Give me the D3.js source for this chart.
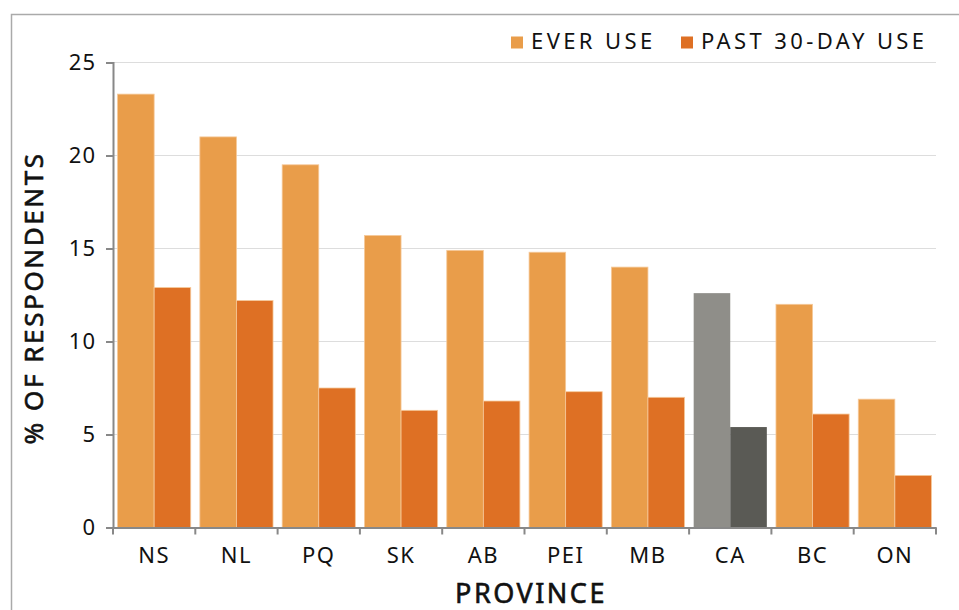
<!DOCTYPE html>
<html>
<head>
<meta charset="utf-8">
<script src="https://cdn.jsdelivr.net/npm/d3@7"></script>
<style>
  html, body { margin: 0; padding: 0; background: #fff; }
  svg text { font-family: "Noto Sans", sans-serif; fill: #111; }
</style>
</head>
<body>
<svg id="chart" width="959" height="610"></svg>
<script>
const provinces = ["NS", "NL", "PQ", "SK", "AB", "PEI", "MB", "CA", "BC", "ON"];
const everUse = [23.3, 21.0, 19.5, 15.7, 14.9, 14.8, 14.0, 12.6, 12.0, 6.9];
const past30Use = [12.9, 12.2, 7.5, 6.3, 6.8, 7.3, 7.0, 5.4, 6.1, 2.8];
const seriesNames = ["EVER USE", "PAST 30-DAY USE"];
const yTicks = [0, 5, 10, 15, 20, 25];

const colors = {
  ever: "#E99D4A", past: "#DE7024",
  everHi: "#8F8E89", pastHi: "#5A5A55"
};
const highlight = "CA";

const svg = d3.select("#chart");
const margin = { left: 113, right: 23, top: 62.5, bottom: 82.5 };
const W = 959, H = 610;

// outer frame
svg.append("rect").attr("x", 11.5).attr("y", 14.5).attr("width", W).attr("height", H)
  .attr("fill", "none").attr("stroke", "#AAAAAA").attr("stroke-width", 1.5);

const x = d3.scaleBand().domain(provinces).range([margin.left, W - margin.right]).paddingInner(0).paddingOuter(0);
const x1 = d3.scaleBand().domain(seriesNames).range([0, x.bandwidth()]).paddingInner(0).paddingOuter(0.125);
const y = d3.scaleLinear().domain([0, 25]).range([H - margin.bottom, margin.top]);

// gridlines
svg.append("g").selectAll("line").data(yTicks.filter(d => d > 0)).join("line")
  .attr("x1", margin.left).attr("x2", W - margin.right)
  .attr("y1", d => y(d)).attr("y2", d => y(d))
  .attr("stroke", "#DDDDDD").attr("stroke-width", 1);

// bars
const groups = svg.append("g").selectAll("g").data(provinces).join("g")
  .attr("transform", d => `translate(${x(d)},0)`);
groups.selectAll("rect").data((d, i) => [
  { s: seriesNames[0], v: everUse[i], c: d === highlight ? colors.everHi : colors.ever, hi: d === highlight },
  { s: seriesNames[1], v: past30Use[i], c: d === highlight ? colors.pastHi : colors.past, hi: d === highlight }
]).join("rect")
  .attr("x", d => x1(d.s)).attr("width", x1.bandwidth())
  .attr("y", d => y(d.v)).attr("height", d => y(0) - y(d.v))
  .attr("fill", d => d.c)
  .attr("stroke", d => d.hi ? "none" : "#F6C99A")
  .attr("stroke-width", 0.8);

// y axis
const yAxis = svg.append("g").attr("transform", `translate(${margin.left},0)`)
  .call(d3.axisLeft(y).tickValues(yTicks).tickSize(7).tickPadding(10));
yAxis.select(".domain").attr("stroke", "#888").attr("stroke-width", 2);
yAxis.selectAll(".tick line").attr("stroke", "#888").attr("stroke-width", 2);
yAxis.selectAll("text").style("font-size", "22px").style("letter-spacing", "1px").attr("fill", "#111");

// x axis
const xAxis = svg.append("g").attr("transform", `translate(0,${y(0)})`)
  .call(d3.axisBottom(x).tickSize(0).tickPadding(20));
xAxis.select(".domain").attr("stroke", "#888").attr("stroke-width", 2);
xAxis.selectAll("text").style("font-size", "22px").style("letter-spacing", "1.5px").attr("fill", "#111");
// boundary ticks
svg.append("g").selectAll("line").data(provinces.concat(["__end"])).join("line")
  .attr("x1", (d, i) => i < provinces.length ? x(d) : x.range()[1])
  .attr("x2", (d, i) => i < provinces.length ? x(d) : x.range()[1])
  .attr("y1", y(0)).attr("y2", y(0) + 7)
  .attr("stroke", "#888").attr("stroke-width", 2);

// axis titles
svg.append("text").attr("x", 531).attr("y", 603)
  .attr("text-anchor", "middle").style("font-size", "27px").style("letter-spacing", "2.5px")
  .attr("stroke", "#111").attr("stroke-width", 0.6)
  .text("PROVINCE");
svg.append("text").attr("transform", `translate(43,298) rotate(-90)`)
  .attr("text-anchor", "middle").style("font-size", "26px").style("letter-spacing", "2.6px")
  .attr("stroke", "#111").attr("stroke-width", 0.6)
  .text("% OF RESPONDENTS");

// legend
const legend = svg.append("g");
const legendItems = [
  { name: seriesNames[0], c: colors.ever, x: 511 },
  { name: seriesNames[1], c: colors.past, x: 681 }
];
const li = legend.selectAll("g").data(legendItems).join("g")
  .attr("transform", d => `translate(${d.x},36.5)`);
li.append("rect").attr("width", 12).attr("height", 12).attr("fill", d => d.c);
li.append("text").attr("x", 20).attr("y", 12.5).style("font-size", "22px").style("letter-spacing", "3.4px")
  .text(d => d.name);
</script>
</body>
</html>
